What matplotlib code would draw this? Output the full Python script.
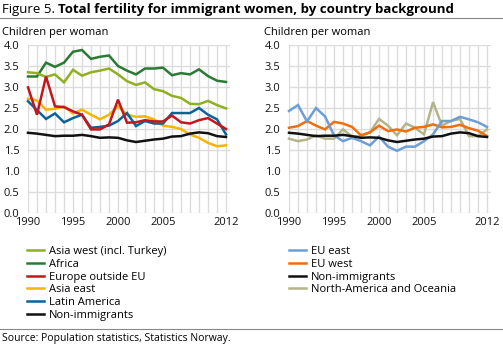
import matplotlib
matplotlib.use('Agg')
import matplotlib.pyplot as plt
from matplotlib.lines import Line2D

plt.rcParams['font.family'] = ['Open Sans', 'DejaVu Sans']

years = list(range(1990, 2013))

# left panel
asia_west = [3.35, 3.33, 3.24, 3.30, 3.11, 3.41, 3.27, 3.35, 3.39, 3.44, 3.30, 3.14,
             3.05, 3.11, 2.95, 2.90, 2.79, 2.74, 2.60, 2.59, 2.67, 2.57, 2.49]
africa = [3.25, 3.25, 3.58, 3.48, 3.58, 3.84, 3.88, 3.67, 3.72, 3.75, 3.50, 3.39,
          3.30, 3.44, 3.44, 3.46, 3.28, 3.33, 3.30, 3.42, 3.26, 3.15, 3.12]
europe_out = [2.99, 2.34, 3.25, 2.54, 2.52, 2.42, 2.34, 1.99, 1.99, 2.11, 2.70, 2.15,
              2.16, 2.21, 2.18, 2.18, 2.32, 2.16, 2.13, 2.21, 2.26, 2.13, 2.00]
asia_east = [2.72, 2.68, 2.46, 2.48, 2.54, 2.37, 2.46, 2.34, 2.23, 2.34, 2.54, 2.34,
             2.29, 2.30, 2.23, 2.08, 2.05, 2.00, 1.87, 1.79, 1.67, 1.59, 1.61]
latin_am = [2.66, 2.45, 2.24, 2.37, 2.16, 2.26, 2.34, 2.03, 2.05, 2.08, 2.19, 2.38,
            2.07, 2.19, 2.13, 2.13, 2.38, 2.38, 2.38, 2.50, 2.34, 2.23, 1.87]
non_imm = [1.91, 1.89, 1.86, 1.83, 1.84, 1.84, 1.86, 1.83, 1.79, 1.80, 1.79, 1.73,
           1.69, 1.72, 1.75, 1.77, 1.82, 1.83, 1.89, 1.92, 1.90, 1.83, 1.81]

# right panel
eu_east = [2.43, 2.57, 2.18, 2.50, 2.30, 1.85, 1.71, 1.79, 1.71, 1.61, 1.82, 1.58,
           1.48, 1.58, 1.58, 1.71, 1.87, 2.19, 2.19, 2.29, 2.23, 2.16, 2.05]
eu_west = [2.03, 2.07, 2.19, 2.08, 1.99, 2.17, 2.13, 2.05, 1.85, 1.92, 2.08, 1.95,
           1.99, 1.94, 2.03, 2.05, 2.11, 2.04, 2.05, 2.10, 2.02, 1.96, 1.83]
na_oceania = [1.77, 1.71, 1.75, 1.85, 1.77, 1.77, 1.99, 1.82, 1.83, 1.92, 2.24, 2.08,
              1.85, 2.13, 2.03, 1.87, 2.64, 2.08, 2.19, 2.24, 1.83, 1.83, 1.99]

left_series = [
    ("Asia west (incl. Turkey)", asia_west, "#8fb021"),
    ("Africa", africa, "#2b7a34"),
    ("Europe outside EU", europe_out, "#c4161c"),
    ("Asia east", asia_east, "#f7b500"),
    ("Latin America", latin_am, "#0b639c"),
    ("Non-immigrants", non_imm, "#111111"),
]
right_series = [
    ("EU east", eu_east, "#6d9ed5"),
    ("EU west", eu_west, "#f06f0c"),
    ("Non-immigrants", non_imm, "#111111"),
    ("North-America and Oceania", na_oceania, "#b3b48a"),
]
# drawing order (last on top)
left_order = [1, 0, 3, 4, 2, 5]
right_order = [3, 1, 0, 2]

W, H = 503, 345
fig = plt.figure(figsize=(W / 100, H / 100), dpi=100)


def px_axes(x0, y_top, x1, y_bot):
    return fig.add_axes([x0 / W, 1 - y_bot / H, (x1 - x0) / W, (y_bot - y_top) / H])


def style(ax):
    ax.set_xlim(1990, 2012.4)
    ax.set_ylim(0, 4)
    ax.set_xticks(years, minor=True)
    ax.set_xticks([1990, 1995, 2000, 2005, 2012])
    ax.set_yticks([0, 0.5, 1, 1.5, 2, 2.5, 3, 3.5, 4])
    ax.set_yticklabels(['0.0', '0.5', '1.0', '1.5', '2.0', '2.5', '3.0', '3.5', '4.0'])
    ax.grid(True, which='both', axis='x', color='#dcdcdc', lw=1)
    ax.grid(True, which='major', axis='y', color='#dcdcdc', lw=1)
    ax.set_axisbelow(True)
    for s in ax.spines.values():
        s.set_visible(False)
    ax.tick_params(which='both', length=0, labelsize=8, colors='#111111')
    ax.tick_params(axis='y', pad=6)
    ax.tick_params(axis='x', pad=3)


ax1 = px_axes(28, 45, 229.6, 213)
ax2 = px_axes(289, 45, 490.6, 213)
for ax, series, order in [(ax1, left_series, left_order), (ax2, right_series, right_order)]:
    style(ax)
    for i in order:
        name, vals, col = series[i]
        ax.plot(years, vals, color=col, lw=1.8, solid_joinstyle='miter', clip_on=False)

lh = [Line2D([], [], color=c, lw=1.8) for _, _, c in left_series]
rh = [Line2D([], [], color=c, lw=1.8) for _, _, c in right_series]
leg_kw = dict(frameon=False, fontsize=8, handlelength=1.55, handletextpad=0.45,
              labelspacing=0.16, borderaxespad=0, borderpad=0, loc='upper left')
fig.legend(lh, [n for n, _, _ in left_series], bbox_to_anchor=(27 / W, 1 - 246 / H), **leg_kw)
fig.legend(rh, [n for n, _, _ in right_series], bbox_to_anchor=(289 / W, 1 - 246 / H), **leg_kw)

# title
t1 = fig.text(2 / W, 1 - 9 / H, "Figure 5. ", fontsize=9.5, va='center', ha='left')
fig.canvas.draw()
bb = t1.get_window_extent()
fig.text(bb.x1 / W, 1 - 9 / H, "Total fertility for immigrant women, by country background",
         fontsize=9.5, fontweight='bold', va='center', ha='left')
fig.add_artist(Line2D([0, 1], [1 - 18 / H, 1 - 18 / H], color='#888888', lw=0.8))
fig.text(2 / W, 1 - 33 / H, "Children per woman", fontsize=8, va='center', ha='left')
fig.text(264 / W, 1 - 33 / H, "Children per woman", fontsize=8, va='center', ha='left')

fig.add_artist(Line2D([0, 1], [1 - 329 / H, 1 - 329 / H], color='#888888', lw=0.8))
fig.text(2 / W, 1 - 338 / H, "Source: Population statistics, Statistics Norway.",
         fontsize=7.5, va='center', ha='left')

plt.savefig('out.png', dpi=100)
